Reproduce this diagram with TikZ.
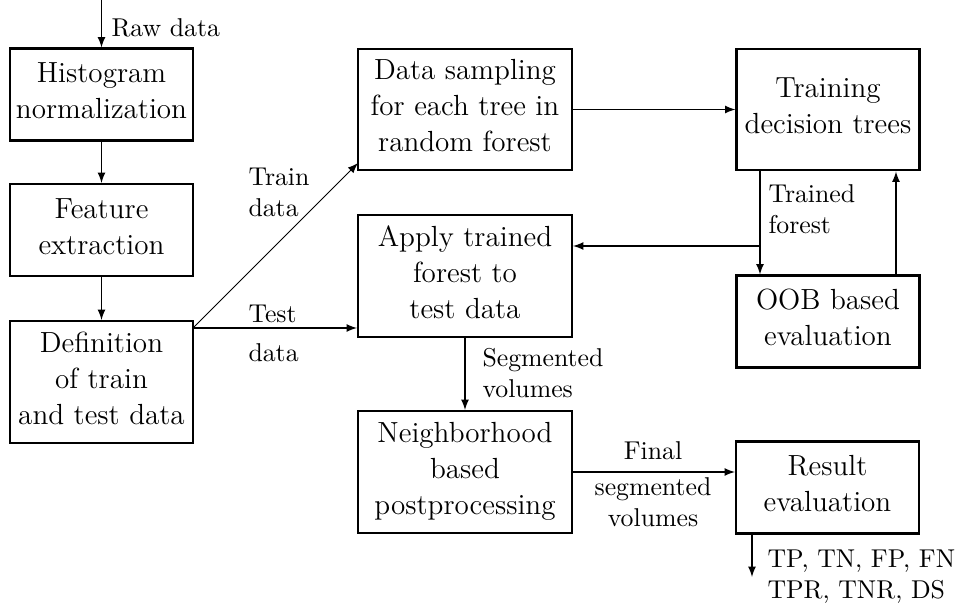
\documentclass[tikz,border=0pt]{standalone}
\usetikzlibrary{calc}
\tikzset{
  box/.style={draw, thick, font=\fontsize{11.3}{14}\selectfont, align=center, minimum width=71pt, inner xsep=0.8pt, inner ysep=2pt},
  wide/.style={minimum width=83pt},
  two/.style={minimum height=35.7pt},
  three/.style={minimum height=47.3pt},
  conn/.style={-latex},
  lbl/.style={inner sep=0pt, align=left, anchor=north west},
  clbl/.style={inner sep=0pt, align=center, anchor=north},
}
\newcommand{\txtdp}{\rule[-3pt]{0pt}{3pt}}
\begin{document}
\begin{tikzpicture}[x=0.388pt, y=-0.388pt]
\useasboundingbox (0,0) rectangle (961,611);
% boxes
\node[box,two]        (hist)   at (101.5,94.5) {Histogram\\normalization\txtdp};
\node[box,two]        (feat)   at (101.5,230)  {Feature\\extraction\txtdp};
\node[box,three]      (def)    at (101.5,382)  {Definition\\of train\\and test data\txtdp};
\node[box,three,wide] (samp)   at (465,109.5)  {Data sampling\\for each tree in\\random forest\txtdp};
\node[box,three]      (train)  at (828,109.5)  {Training\\decision trees\txtdp};
\node[box,three,wide] (apply)  at (465,276)    {Apply trained\\forest to\\test data\txtdp};
\node[box,two]        (oob)    at (828,321.5)  {OOB based\\evaluation\txtdp};
\node[box,three,wide] (neigh)  at (465,472)    {Neighborhood\\based\\postprocessing\txtdp};
\node[box,two]        (result) at (827.5,487.5){Result\\evaluation\txtdp};
% coordinates
\coordinate (rawin)  at (101.5,0);
\coordinate (defout) at (193,328);
\coordinate (sampin) at (358,163);
\coordinate (tf)     at (760,246);
\coordinate (oobup)  at (896,275);
\coordinate (resout) at (752,577);
% connectors
\draw[conn] (rawin) -- (hist.north)
  node[lbl] at (111,18) {Raw data};
\draw[conn] (hist) -- (feat);
\draw[conn] (feat) -- (def);
\draw[conn] (defout) -- (sampin)
  node[lbl] at (248,168) {Train\\data};
\draw[conn] (defout) -- (defout -| apply.west)
  node[lbl] at (248,305) {Test}
  node[lbl] at (248,343) {data};
\draw[conn] (samp) -- (train);
\draw[conn] (tf |- train.south) -- (tf |- oob.north)
  node[lbl] at (768,184) {Trained\\forest};
\draw[conn] (tf) -- (tf -| apply.east);
\draw[conn] (oobup |- oob.north) -- (oobup |- train.south);
\draw[conn] (apply) -- (neigh)
  node[lbl] at (482,348) {Segmented\\volumes};
\draw[conn] (neigh.east) -- (neigh.east -| result.west)
  node[clbl] at (653,441) {Final}
  node[clbl] at (653,477) {segmented\\volumes};
\draw[conn] (resout |- result.south) -- (resout)
  node[lbl] at (767,549) {TP, TN, FP, FN\\TPR, TNR, DS};
\end{tikzpicture}
\end{document}
